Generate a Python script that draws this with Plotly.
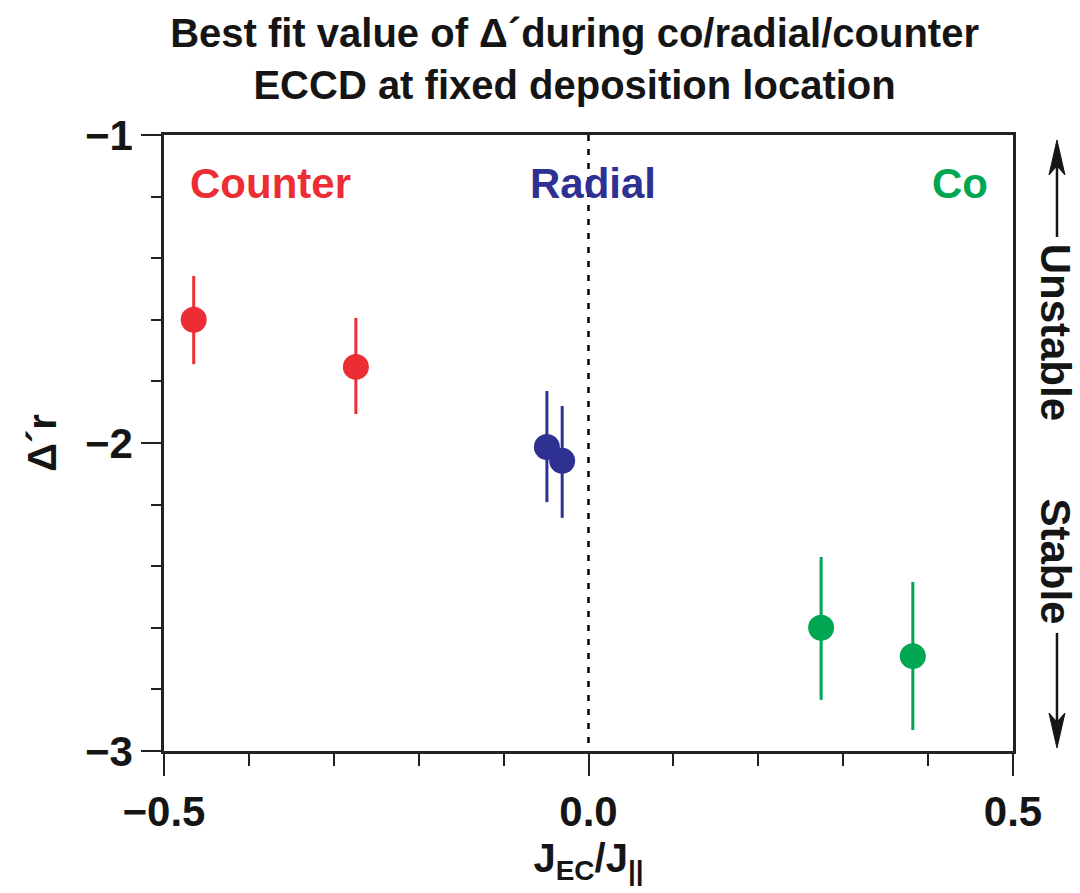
import plotly.graph_objects as go

# Measured best-fit Δ'r for each ECCD configuration
groups = ["Counter", "Radial", "Co"]
colors = {"Counter": "#EC2D34", "Radial": "#2E3192", "Co": "#00A651"}
j_ratio = {"Counter": [-0.465, -0.274], "Radial": [-0.049, -0.031], "Co": [0.274, 0.382]}
delta_r = {"Counter": [-1.60, -1.753], "Radial": [-2.013, -2.058], "Co": [-2.60, -2.692]}
err_plus = {"Counter": [0.142, 0.159], "Radial": [0.182, 0.178], "Co": [0.23, 0.241]}
err_minus = {"Counter": [0.144, 0.153], "Radial": [0.179, 0.185], "Co": [0.234, 0.24]}
label_x = {"Counter": -0.374, "Radial": 0.005, "Co": 0.438}

FONT = "Liberation Sans, Arial, Helvetica, sans-serif"
INK = "#151515"

fig = go.Figure()
for g in groups:
    fig.add_trace(go.Scatter(
        x=j_ratio[g], y=delta_r[g], mode="markers",
        marker=dict(color=colors[g], size=26, line=dict(width=0)),
        error_y=dict(type="data", array=err_plus[g], arrayminus=err_minus[g],
                     color=colors[g], thickness=3, width=0),
        showlegend=False,
    ))
    fig.add_annotation(x=label_x[g], y=-1.156, xref="x", yref="y", text=g,
                       showarrow=False, xanchor="center", yanchor="middle",
                       font=dict(family=FONT, size=42, color=colors[g], weight="bold"))

# zero-current reference line
fig.add_shape(type="line", x0=0, x1=0, y0=-1, y1=-3, xref="x", yref="y",
              line=dict(color="black", width=2.5, dash="6px,8px"))

# stability labels on the right side
for txt, yc in [("Unstable", 0.680), ("Stable", 0.307)]:
    fig.add_annotation(x=1.050, y=yc, xref="paper", yref="paper", text=txt,
                       textangle=90, showarrow=False, xanchor="center", yanchor="middle",
                       font=dict(family=FONT, size=42, color=INK, weight="bold"))

# arrows: shaft plus a swept-back head, in paper units
ax_x = 1.0518
hw = 0.0094
fig.add_shape(type="line", xref="paper", yref="paper", x0=ax_x, x1=ax_x,
              y0=0.8344, y1=0.955, line=dict(color=INK, width=2.5))
fig.add_shape(type="path", xref="paper", yref="paper",
              path=f"M {ax_x} 0.9919 L {ax_x - hw} 0.9351 L {ax_x} 0.9497 L {ax_x + hw} 0.9351 Z",
              fillcolor=INK, line=dict(color=INK, width=1))
fig.add_shape(type="line", xref="paper", yref="paper", x0=ax_x, x1=ax_x,
              y0=0.1916, y1=0.040, line=dict(color=INK, width=2.5))
fig.add_shape(type="path", xref="paper", yref="paper",
              path=f"M {ax_x} 0.0049 L {ax_x - hw} 0.0617 L {ax_x} 0.0471 L {ax_x + hw} 0.0617 Z",
              fillcolor=INK, line=dict(color=INK, width=1))

fig.update_layout(
    width=1080, height=893,
    margin=dict(l=164, r=67, t=135, b=142),
    paper_bgcolor="white", plot_bgcolor="white",
    title=dict(text="Best fit value of Δ´during co/radial/counter<br>ECCD at fixed deposition location",
               x=0.532, xanchor="center", y=0.947, yanchor="top",
               font=dict(family=FONT, size=40, color=INK, weight="bold")),
    xaxis=dict(range=[-0.5, 0.5], dtick=0.5, tick0=-0.5, tickformat=".1f",
               showgrid=False, zeroline=False, showline=True, linecolor="#222",
               linewidth=2.5, mirror=True, ticks="outside", ticklen=22, tickwidth=2,
               tickcolor="#222",
               minor=dict(dtick=0.1, ticks="outside", ticklen=12, tickwidth=2, tickcolor="#222"),
               tickfont=dict(family=FONT, size=42, color=INK, weight="bold"),
               title=dict(text="J<sub>EC</sub>/J<sub>||</sub>", standoff=10,
                          font=dict(family=FONT, size=40, color=INK, weight="bold"))),
    yaxis=dict(range=[-3, -1], dtick=1, tickformat="d",
               showgrid=False, zeroline=False, showline=True, linecolor="#222",
               linewidth=2.5, mirror=True, ticks="outside", ticklen=20, tickwidth=2,
               tickcolor="#222",
               minor=dict(dtick=0.2, ticks="outside", ticklen=10, tickwidth=2, tickcolor="#222"),
               tickfont=dict(family=FONT, size=42, color=INK, weight="bold"),
               title=dict(text="Δ´r", standoff=16,
                          font=dict(family=FONT, size=40, color=INK, weight="bold"))),
)

fig.write_html("out.html")
